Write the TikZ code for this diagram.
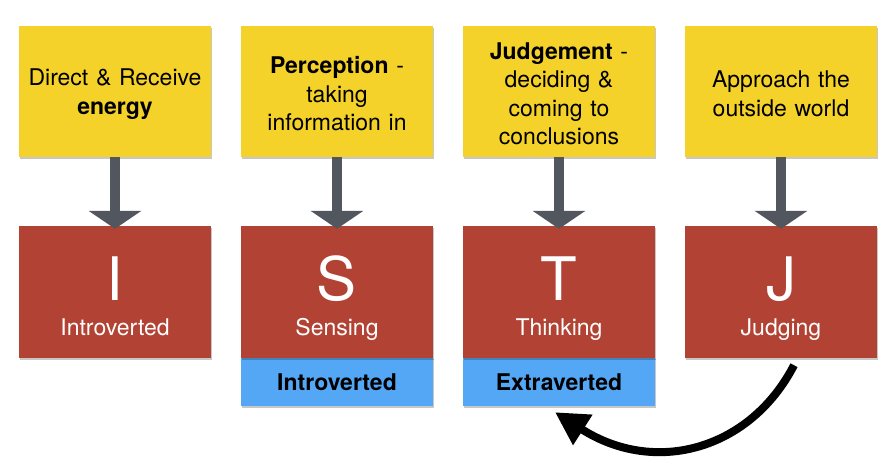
\documentclass[tikz,border=0pt]{standalone}
\usepackage{fontspec}
\setmainfont{TeX Gyre Heros}
\usetikzlibrary{arrows.meta,shadows}
\definecolor{ybox}{RGB}{244,210,42}
\definecolor{rbox}{RGB}{178,67,52}
\definecolor{bbox}{RGB}{84,167,245}
\definecolor{arrowgrey}{RGB}{82,86,94}
\tikzset{
  boxshadow/.style={drop shadow={shadow xshift=0.6pt,shadow yshift=-1.6pt,opacity=0.22,fill=black}},
  ybx/.style={fill=ybox,minimum width=192pt,minimum height=131pt,inner sep=0pt,boxshadow},
  ytext/.style={text width=185pt,align=center,inner sep=0pt,font=\fontsize{23}{28.5}\selectfont},
  rbx/.style={fill=rbox,minimum width=192pt,minimum height=132pt,inner sep=0pt,boxshadow},
  bbx/.style={fill=bbox,minimum width=192pt,minimum height=49pt,inner sep=0pt,boxshadow},
  bigletter/.style={anchor=base,text=white,inner sep=0pt,font=\fontsize{60}{60}\selectfont},
  rlabel/.style={anchor=base,text=white,inner sep=0pt,font=\fontsize{23}{28}\selectfont},
  blabel/.style={anchor=base,text=black,inner sep=0pt,font=\fontsize{23}{28}\selectfont\bfseries},
  downarrow/.style={draw=arrowgrey,line width=10pt,-{Triangle[width=52pt,length=18pt]},arrowgrey},
  backarrow/.style={draw=black,line width=8pt,-{Triangle[width=34pt,length=33pt]}}
}
\begin{document}
\begin{tikzpicture}[x=1pt,y=-1pt]
\useasboundingbox[fill=white] (0,0) rectangle (893,475);
% yellow boxes
\node[ybx] (y1) at (115,91.5) {};
\node[ybx] (y2) at (337,91.5) {};
\node[ybx] (y3) at (559,91.5) {};
\node[ybx] (y4) at (781,91.5) {};
\node[ytext] (yt1) at (115,94) {Direct \& Receive\\\textbf{energy}};
\node[ytext] (yt2) at (337,94) {\textbf{Perception} -\\taking\\information in};
\node[ytext] (yt3) at (559,94) {\textbf{Judgement} -\\deciding \&\\coming to\\conclusions};
\node[ytext] (yt4) at (781,94) {Approach the\\outside world};
% blue boxes
\node[bbx] (b2) at (337,381.5) {};
\node[bbx] (b3) at (559,381.5) {};
% red boxes
\node[rbx] (r1) at (115,292) {};
\node[rbx] (r2) at (337,292) {};
\node[rbx] (r3) at (559,292) {};
\node[rbx] (r4) at (781,292) {};
% letters
\node[bigletter] (l1) at (115,300) {I};
\node[bigletter] (l2) at (337,300) {S};
\node[bigletter] (l3) at (559,300) {T};
\node[bigletter] (l4) at (781,300) {J};
\node[rlabel] (t1) at (115,335) {Introverted};
\node[rlabel] (t2) at (337,335) {Sensing};
\node[rlabel] (t3) at (559,335) {Thinking};
\node[rlabel] (t4) at (781,335) {Judging};
\node[blabel] (s2) at (337,390) {Introverted};
\node[blabel] (s3) at (559,390) {Extraverted};
% down arrows
\draw[downarrow] (y1.south) -- ([yshift=-3pt]r1.north);
\draw[downarrow] (y2.south) -- ([yshift=-3pt]r2.north);
\draw[downarrow] (y3.south) -- ([yshift=-3pt]r3.north);
\draw[downarrow] (y4.south) -- ([yshift=-3pt]r4.north);
% curved arrow
\coordinate (cs) at ([shift={(13,7)}]r4.south);
\coordinate (ce) at ([shift={(-4,6)}]b3.south);
\draw[backarrow] (cs) .. controls (750,450) and (655,476) .. (ce);
\end{tikzpicture}
\end{document}
